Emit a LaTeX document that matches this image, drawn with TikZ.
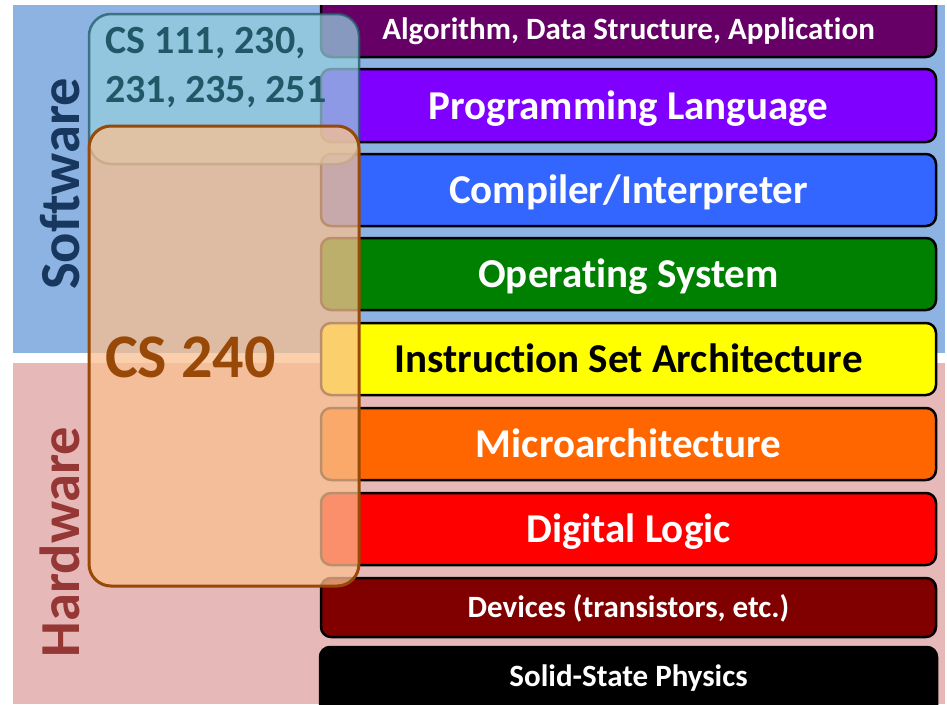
\documentclass[tikz,border=0pt]{standalone}
\usepackage{fontspec}
\setmainfont{Carlito}[Ligatures={NoCommon}]
\definecolor{swbg}{HTML}{8DB3E2}
\definecolor{hwbg}{HTML}{E6B9B8}
\definecolor{swtxt}{HTML}{17375E}
\definecolor{hwtxt}{HTML}{953735}
\definecolor{cAlg}{HTML}{660066}
\definecolor{cPL}{HTML}{8000FF}
\definecolor{cComp}{HTML}{3366FF}
\definecolor{cOS}{HTML}{008000}
\definecolor{cISA}{HTML}{FFFF00}
\definecolor{cMicro}{HTML}{FF6600}
\definecolor{cDL}{HTML}{FF0000}
\definecolor{cDev}{HTML}{800000}
\definecolor{cPhys}{HTML}{000000}
\definecolor{ovBlueFill}{HTML}{93CDDD}
\definecolor{ovBlueLine}{HTML}{215868}
\definecolor{ovOrFill}{HTML}{FAC090}
\definecolor{ovOrLine}{HTML}{984807}
\begin{document}
\begin{tikzpicture}[x=1pt,y=-1pt,
  layerbox/.style={draw=black,line width=2.5pt,rounded corners=10pt},
  bigtxt/.style={font=\bfseries\fontsize{41}{49}\selectfont,anchor=base,inner sep=0pt},
  smalltxt/.style={font=\bfseries\fontsize{31}{37}\selectfont,anchor=base,inner sep=0pt},
  sidetxt/.style={font=\bfseries\fontsize{56.5}{68}\selectfont,rotate=90,inner sep=0pt},
  cstxt/.style={font=\bfseries\fontsize{40}{48}\selectfont,text=ovBlueLine,anchor=base west,inner sep=0pt}]
\useasboundingbox (0,0) rectangle (947,704);
\fill[white] (0,0) rectangle (947,704);
\begin{scope}
\clip (0,5) rectangle (947,704);
% backgrounds
\fill[swbg] (13,5) rectangle (945,353);
\fill[hwbg] (13,363) rectangle (945,704);
% layers
\draw[layerbox,fill=cAlg] (321,-30) rectangle (936,57);
\draw[layerbox,fill=cPL] (321,69) rectangle (936,142);
\draw[layerbox,fill=cComp] (321,154) rectangle (936,226);
\draw[layerbox,fill=cOS] (321,238) rectangle (936,310);
\draw[layerbox,fill=cISA] (321,323) rectangle (936,395);
\draw[layerbox,fill=cMicro] (321,408) rectangle (936,480);
\draw[layerbox,fill=cDL] (321,493) rectangle (936,565);
\draw[layerbox,fill=cDev] (321,578) rectangle (936,637);
\draw[layerbox,fill=cPhys] (320,647) rectangle (937,740);
\node[smalltxt,text=white] (alg) at (628.5,39.5) {Algorithm, Data Structure, Application};
\node[bigtxt,text=white] (pl) at (628.5,119) {Programming Language};
\node[bigtxt,text=white] (comp) at (628.5,203) {Compiler/Interpreter};
\node[bigtxt,text=white] (os) at (628.5,287) {Operating System};
\node[bigtxt,text=black] (isa) at (628.5,372) {Instruction Set Architecture};
\node[bigtxt,text=white] (micro) at (628.5,457) {Microarchitecture};
\node[bigtxt,text=white] (dl) at (628.5,542) {Digital Logic};
\node[smalltxt,text=white] (dev) at (628.5,617.5) {Devices (transistors, etc.)};
\node[smalltxt,text=white] (phys) at (628.5,686) {Solid-State Physics};
% side labels
\node[sidetxt,text=swtxt] (sw) at (60,184) {Software};
\node[sidetxt,text=hwtxt] (hw) at (60,542) {Hardware};
% overlays
\draw[fill=ovBlueFill,fill opacity=0.75,draw=ovBlueLine,draw opacity=0.75,line width=2.5pt,rounded corners=22pt] (89,14) rectangle (359,164);
\node[cstxt] (cs1) at (105,53) {CS 111, 230,};
\node[cstxt] (cs2) at (105,102) {231, 235, 251};
\draw[fill=ovOrFill,fill opacity=0.75,draw=ovOrLine,line width=3pt,rounded corners=22pt] (89,126) rectangle (359,586);
\node[font=\bfseries\fontsize{62}{74}\selectfont,text=ovOrLine,anchor=base west,inner sep=0pt] (cs240) at (105,377) {CS 240};
\end{scope}
\end{tikzpicture}
\end{document}
